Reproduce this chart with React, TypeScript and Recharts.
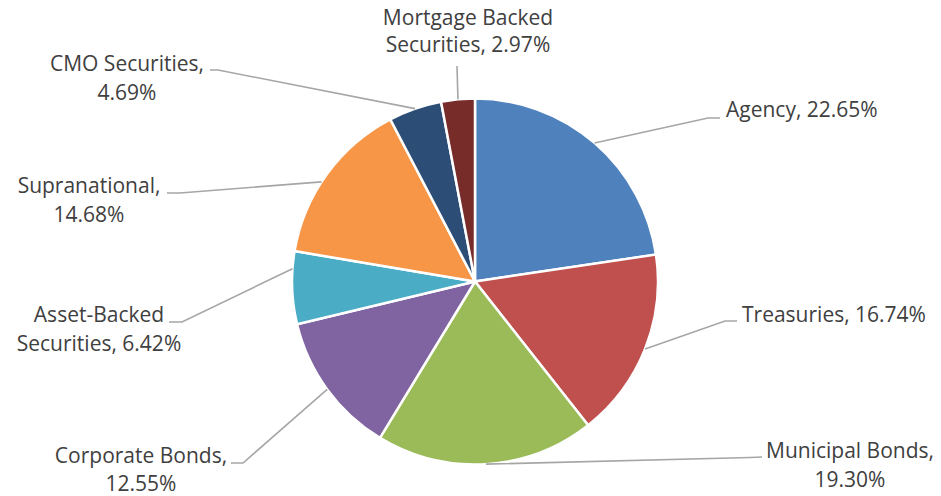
import React from "react";
import { PieChart, Pie, Cell } from "recharts";

// ---- data ----
const categories = [
  "Agency",
  "Treasuries",
  "Municipal Bonds",
  "Corporate Bonds",
  "Asset-Backed Securities",
  "Supranational",
  "CMO Securities",
  "Mortgage Backed Securities",
];
const shares = [22.65, 16.74, 19.3, 12.55, 6.42, 14.68, 4.69, 2.97];
const colors = [
  "#4F81BD",
  "#C0504D",
  "#9BBB59",
  "#8064A2",
  "#4BACC6",
  "#F79646",
  "#2C4D75",
  "#772C2A",
];
// number of words on the first label line (0 = single line)
const wrapWords = [0, 0, 2, 2, 1, 1, 2, 2];

// ---- label layout (offsets from the pie centre) ----
type LabelLayout = {
  elbow: [number, number];
  end: [number, number];
  tx: number;
  ty: number;
  anchor: "start" | "middle" | "end";
  attachShift?: number;
  lineH?: number;
};
const labelLayout: LabelLayout[] = [
  { elbow: [233, -163.5], end: [245, -163.5], tx: 251, ty: -164.5, anchor: "start" },
  { elbow: [250, 39.5], end: [262, 39.5], tx: 267, ty: 40.5, anchor: "start" },
  { elbow: [275, 176], end: [287, 175.5], tx: 375, ty: 176.5, anchor: "middle" },
  { elbow: [-232, 181.5], end: [-244, 181.5], tx: -334, ty: 181.5, anchor: "middle", lineH: 28 },
  { elbow: [-293, 40.5], end: [-306, 40.5], tx: -376, ty: 40.5, anchor: "middle", attachShift: -6 },
  { elbow: [-295, -88.5], end: [-308, -88.5], tx: -386, ty: -88.5, anchor: "middle", attachShift: 3 },
  { elbow: [-257, -211.5], end: [-265, -211.5], tx: -348, ty: -210.5, anchor: "middle" },
  { elbow: [-18, -215.5], end: [-18, -215.5], tx: -7, ty: -256.5, anchor: "middle", lineH: 27 },
];

const data = categories.map((name, i) => ({ name, value: shares[i] }));

const CX = 475;
const CY = 281.5;
const R = 183;
const LINE_H = 28.5;
const RAD = Math.PI / 180;

const renderLabel = (props: any) => {
  const { index, midAngle, outerRadius } = props;
  const cx = typeof props.cx === "number" ? props.cx : CX;
  const cy = typeof props.cy === "number" ? props.cy : CY;
  const lay = labelLayout[index];
  const ang = midAngle + (lay.attachShift ?? 0);
  const ax = cx + Math.cos(-ang * RAD) * outerRadius;
  const ay = cy + Math.sin(-ang * RAD) * outerRadius;
  const text = `${categories[index]}, ${shares[index].toFixed(2)}%`;
  const words = text.split(" ");
  const n = wrapWords[index];
  const lines = n > 0 ? [words.slice(0, n).join(" "), words.slice(n).join(" ")] : [text];
  const lh = lay.lineH ?? LINE_H;
  return (
    <g key={`lbl-${index}`}>
      <polyline
        points={`${ax},${ay} ${cx + lay.elbow[0]},${cy + lay.elbow[1]} ${cx + lay.end[0]},${cy + lay.end[1]}`}
        fill="none"
        stroke="#A6A6A6"
        strokeWidth={1.6}
      />
      <text
        x={cx + lay.tx}
        y={cy + lay.ty}
        textAnchor={lay.anchor}
        fill="#404040"
        fontSize={21}
        fontFamily="'Open Sans', sans-serif"
      >
        {lines.map((l, i) => (
          <tspan key={i} x={cx + lay.tx} dy={i === 0 ? 0 : lh}>
            {l}
          </tspan>
        ))}
      </text>
    </g>
  );
};

export default function App() {
  return (
    <div style={{ position: "absolute", left: 0, top: 0, width: 941, height: 496, background: "#fff" }}>
      <PieChart width={941} height={496} margin={{ top: 0, right: 0, bottom: 0, left: 0 }}>
        <Pie
          data={data}
          dataKey="value"
          nameKey="name"
          cx={CX}
          cy={CY}
          outerRadius={R}
          startAngle={90}
          endAngle={-270}
          stroke="#FFFFFF"
          strokeWidth={2.5}
          isAnimationActive={false}
          labelLine={false}
          label={renderLabel}
        >
          {data.map((d, i) => (
            <Cell key={d.name} fill={colors[i]} />
          ))}
        </Pie>
      </PieChart>
    </div>
  );
}
